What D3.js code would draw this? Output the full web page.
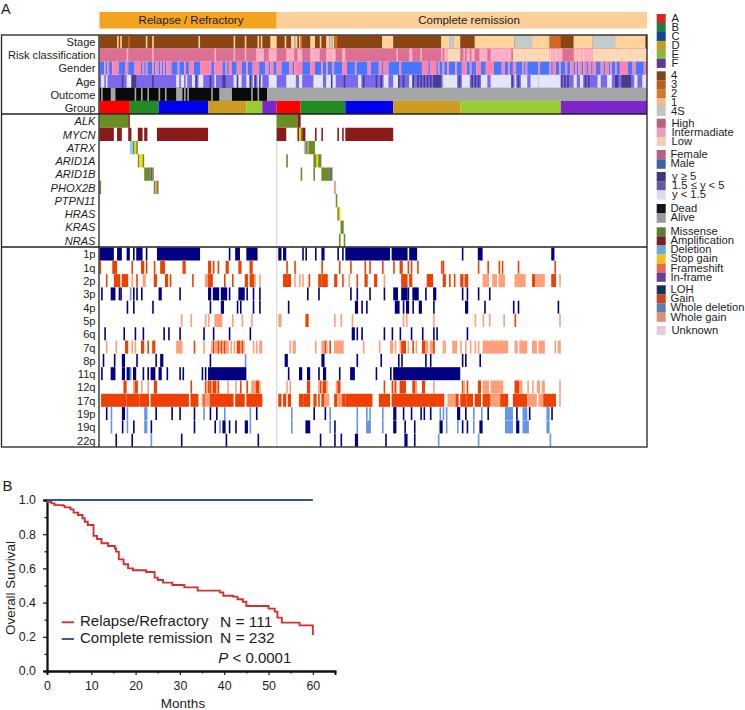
<!DOCTYPE html>
<html><head><meta charset="utf-8">
<script src="https://d3js.org/d3.v7.min.js"></script>
<style>html,body{margin:0;padding:0;background:#fff}svg{display:block}text{font-family:"Liberation Sans",Arial,sans-serif;fill:#1c1c1c}</style>
</head><body><div id="c"></div>
<script>
// ---- cohort
const cohortNames=["Relapse / Refractory","Complete remission"];
const cohortSizes=[111,232];
const groupNames=["A","B","C","D","E","F"];
const groupSizesRelapse=[19,18,31,24,10,9];
const groupSizesRemission=[15,28,30,42,63,54];
const annotationRows=["Stage","Risk classification","Gender","Age","Outcome","Group"];
const geneRows=["ALK","MYCN","ATRX","ARID1A","ARID1B","PHOX2B","PTPN11","HRAS","KRAS","NRAS"];
const armRows=["1p","1q","2p","3p","4p","5p","6q","7q","8p","11q","12q","17q","19p","19q","22q"];
// ---- annotation runs: [first patient, number of patients, level]
const stageBase=[[0,343,"4"]];
const stageRuns=[[11,1,"1"],[13,1,"1"],[18,1,"2"],[29,1,"1"],[33,1,"1"],[62,1,"1"],[84,1,"1"],[91,1,"1"],[99,1,"1"],[101,1,"1"],[107,4,"1"],
[116,1,"1"],[120,2,"1"],[122,1,"4S"],[123,1,"1"],[125,1,"1"],[126,1,"2"],[132,3,"1"],[138,1,"1"],[142,2,"1"],[144,2,"4S"],[146,1,"1"],[147,2,"2"],[177,7,"1"],
[214,5,"1"],[219,3,"4S"],[222,4,"1"],[235,25,"1"],[260,11,"4S"],[271,11,"1"],[282,7,"2"],[297,12,"1"],[309,14,"4S"],[323,19,"1"]];
const riskBase=[[0,343,"High"]];
const riskRuns=[[17,1,"Intermediate"],[33,1,"Intermediate"],[72,1,"Intermediate"],[84,1,"Intermediate"],[91,1,"Intermediate"],[98,5,"Intermediate"],[106,5,"Intermediate"],
[117,5,"Intermediate"],[124,3,"Intermediate"],[132,6,"Intermediate"],[142,4,"Intermediate"],[146,1,"Low"],[147,1,"Intermediate"],[152,2,"Intermediate"],[186,1,"Intermediate"],[194,2,"Intermediate"],[201,1,"Intermediate"],
[214,1,"Intermediate"],[216,2,"Intermediate"],[218,8,"Low"],[228,1,"Intermediate"],[230,2,"Intermediate"],[233,2,"Intermediate"],[238,5,"Intermediate"],[245,13,"Intermediate"],[259,23,"Low"],
[282,1,"Low"],[283,3,"Intermediate"],[286,1,"Low"],[287,3,"Intermediate"],[297,1,"Intermediate"],[298,1,"Low"],[299,1,"Intermediate"],[300,1,"Low"],[301,2,"Intermediate"],[303,1,"Low"],[304,5,"Intermediate"],[309,34,"Low"]];
const genderChanges=[0,3,4,5,6,8,12,16,18,22,26,27,28,29,30,33,34,35,37,38,39,40,41,42,45,49,50,53,54,56,59,63,70,72,77,79,80,81,83,86,89,92,93,96,100,104,106,107,109,111,114,119,121,122,127,132,135,139,140,142,143,146,147,152,155,160,161,168,170,175,177,178,181,188,189,202,206,207,211,212,213,215,216,218,219,223,224,227,230,232,233,236,239,242,247,252,254,256,257,259,261,265,266,267,268,275,276,282,283,284,286,288,289,292,293,295,297,298,299,300,302,303,305,306,308,309,311,314,316,317,319,320,321,323,324,326,331,334,336,341,343];
const ageBase=[[0,343,"mid"]];
const ageRuns=[[1,2,"light"],[4,1,"light"],[14,1,"dark"],[17,3,"light"],[20,3,"dark"],[33,1,"dark"],[48,2,"light"],[51,2,"light"],[54,1,"light"],[58,2,"light"],[60,1,"dark"],[62,3,"light"],[69,1,"dark"],
[72,1,"light"],[77,2,"dark"],[84,2,"light"],[86,1,"dark"],[87,2,"light"],[92,2,"light"],[94,1,"dark"],[96,1,"light"],[97,1,"dark"],[99,1,"light"],[100,1,"dark"],[101,1,"light"],[106,5,"light"],
[117,6,"light"],[125,2,"light"],[134,6,"light"],[142,3,"light"],[145,1,"dark"],[146,2,"light"],[153,1,"dark"],[162,2,"light"],[165,1,"dark"],[173,1,"dark"],[176,1,"dark"],[178,3,"light"],[184,3,"light"],[187,1,"dark"],[190,1,"dark"],[194,2,"light"],[196,1,"dark"],[199,1,"dark"],[201,1,"dark"],[203,1,"dark"],[205,1,"dark"],[207,1,"dark"],[209,5,"dark"],
[215,9,"light"],[225,1,"dark"],[227,5,"light"],[233,1,"dark"],[235,1,"dark"],[237,1,"dark"],[239,4,"light"],[245,13,"light"],[258,1,"dark"],[260,1,"light"],[262,1,"dark"],[264,4,"light"],[270,5,"light"],[275,14,"light"],
[289,1,"dark"],[291,1,"dark"],[293,1,"dark"],[297,2,"light"],[301,2,"light"],[304,1,"dark"],[306,1,"dark"],[312,2,"light"],[318,3,"light"],[323,2,"dark"],[327,6,"dark"],[335,2,"light"],[340,3,"light"]];
const outcomeBase=[[0,105,"Dead"],[105,238,"Alive"]];
const outcomeRuns=[[1,1,"Alive"],[7,3,"Alive"],[22,1,"Alive"],[26,1,"Alive"],[30,1,"Alive"],[37,1,"Alive"],[41,1,"Alive"],[48,4,"Alive"],[53,1,"Alive"],[55,1,"Alive"],[70,1,"Alive"],[75,8,"Alive"],[95,1,"Alive"],[99,1,"Alive"]];
// ---- mutations: [first patient, number of patients, type]
const geneALK=[[0,18,"M"],[18,1,"A"],[111,13,"M"],[124,2,"A"]];
const geneMYCN=[[0,9,"A"],[11,3,"A"],[18,2,"A"],[24,3,"A"],[28,2,"A"],[36,32,"A"],[111,6,"A"],[124,1,"A"],[125,1,"S"],[126,1,"M"],[127,2,"A"],[135,1,"A"],[139,1,"A"],[149,1,"A"],[152,1,"A"],[154,30,"A"]];
const geneATRX=[[19,2,"D"],[21,1,"M"],[22,1,"S"],[23,1,"M"],[128,1,"D"],[129,1,"M"],[130,1,"F"],[131,4,"M"]];
const geneARID1A=[[24,1,"M"],[25,2,"S"],[27,1,"M"],[117,1,"M"],[134,2,"M"],[136,1,"S"],[137,2,"M"]];
const geneARID1B=[[28,4,"M"],[32,1,"I"],[33,1,"M"],[126,1,"M"],[134,1,"M"],[139,5,"M"],[144,1,"I"],[145,1,"M"]];
const genePHOX2B=[[0,1,"M"],[34,1,"M"],[35,1,"F"],[36,1,"M"],[147,1,"F"]];
const genePTPN11=[[148,1,"M"]];
const geneHRAS=[[149,1,"M"],[150,1,"S"]];
const geneKRAS=[[151,2,"M"]];
const geneNRAS=[[150,1,"M"],[153,1,"M"]];
// ---- copy number: [first patient, number of patients, type]
const arm1p=[[0,9,"L"],[11,3,"L"],[17,2,"L"],[21,1,"L"],[23,4,"L"],[29,1,"L"],[36,27,"L"],[81,1,"L"],[85,3,"L"],[92,7,"L"],[112,2,"L"],[115,2,"L"],[127,1,"L"],[129,1,"L"],[135,1,"L"],[139,2,"L"],[149,1,"L"],[152,1,"L"],[154,28,"L"],[183,10,"L"],[194,5,"L"],[227,1,"L"],[237,3,"L"],[283,2,"L"]];
const arm1q=[[0,1,"G"],[8,3,"G"],[20,1,"G"],[26,2,"G"],[29,1,"G"],[34,1,"G"],[38,3,"G"],[52,2,"G"],[68,2,"G"],[71,1,"G"],[74,1,"G"],[79,2,"G"],[87,2,"G"],[94,2,"G"],[117,1,"G"],[122,1,"G"],[139,1,"G"],[150,1,"G"],[157,1,"G"],[166,1,"G"],[169,1,"G"],[177,1,"G"],[184,1,"G"],[188,2,"G"],[193,1,"G"],[195,1,"G"],[199,1,"G"],[214,1,"G"],[215,1,"G"],[237,1,"G"],[243,1,"G"],[250,1,"G"],[252,1,"G"],[262,1,"G"],[285,1,"G"]];
const arm2p=[[4,1,"G"],[9,2,"G"],[11,2,"G"],[14,4,"G"],[20,1,"W"],[23,1,"G"],[27,2,"W"],[34,2,"G"],[41,2,"G"],[44,1,"G"],[58,1,"G"],[66,2,"W"],[68,3,"G"],[78,1,"G"],[83,1,"G"],[91,2,"G"],[94,3,"G"],[97,1,"W"],[100,1,"W"],[115,5,"G"],[122,1,"W"],[125,1,"W"],[127,1,"W"],[131,1,"G"],[137,2,"G"],[139,4,"G"],[147,2,"G"],[152,1,"G"],[156,1,"W"],[161,1,"G"],[166,2,"G"],[172,2,"G"],[178,1,"W"],[189,4,"G"],[194,2,"G"],[205,4,"G"],[215,2,"G"],[219,1,"G"],[222,1,"G"],[226,2,"G"],[228,1,"W"],[229,2,"G"],[240,4,"W"],[246,3,"W"],[250,4,"W"],[260,7,"W"],[271,2,"G"],[273,6,"W"],[283,3,"G"],[288,1,"W"]];
const arm3p=[[1,1,"L"],[7,3,"L"],[12,1,"L"],[13,1,"L"],[19,1,"D"],[21,1,"L"],[23,1,"L"],[26,1,"L"],[37,2,"L"],[50,1,"L"],[68,2,"L"],[71,4,"L"],[76,4,"L"],[81,1,"L"],[87,4,"L"],[92,1,"L"],[96,1,"L"],[100,1,"L"],[130,1,"L"],[137,1,"L"],[157,1,"L"],[161,1,"L"],[169,1,"L"],[178,1,"L"],[184,3,"L"],[189,4,"L"],[193,1,"L"],[196,4,"L"],[204,1,"L"],[209,2,"L"],[227,1,"L"],[230,1,"L"],[237,1,"L"],[244,1,"L"]];
const arm4p=[[17,1,"L"],[21,1,"L"],[33,1,"L"],[69,1,"L"],[76,2,"L"],[86,1,"L"],[88,1,"L"],[96,1,"L"],[100,1,"L"],[118,1,"L"],[160,2,"L"],[164,1,"L"],[167,1,"L"],[185,3,"L"],[190,1,"L"],[192,2,"L"],[196,1,"L"],[200,2,"L"],[209,1,"L"],[229,2,"L"],[241,1,"L"],[259,1,"L"],[262,1,"L"],[287,1,"L"]];
const arm5p=[[51,1,"W"],[57,1,"W"],[66,1,"W"],[68,1,"W"],[72,5,"W"],[83,1,"W"],[89,1,"W"],[95,1,"W"],[112,2,"W"],[129,2,"G"],[147,1,"W"],[151,1,"W"],[158,1,"W"],[190,1,"W"],[192,1,"W"],[209,1,"W"],[235,1,"W"],[240,1,"W"],[244,1,"W"],[253,1,"W"],[260,1,"G"],[288,1,"W"]];
const arm6q=[[3,1,"L"],[15,1,"L"],[22,1,"L"],[27,1,"L"],[40,1,"L"],[43,1,"L"],[50,1,"L"],[65,1,"L"],[71,1,"L"],[81,1,"L"],[94,1,"L"],[158,2,"L"],[161,1,"L"],[164,1,"L"],[178,1,"L"],[183,1,"L"],[188,1,"L"],[195,1,"L"],[202,1,"L"],[209,1,"L"],[211,1,"L"],[230,1,"L"]];
const arm7q=[[4,1,"W"],[10,1,"W"],[16,2,"G"],[20,1,"W"],[22,1,"W"],[26,2,"G"],[30,1,"G"],[33,2,"G"],[48,4,"W"],[59,1,"G"],[65,1,"W"],[70,1,"W"],[71,1,"G"],[72,2,"W"],[74,1,"G"],[75,1,"W"],[76,1,"G"],[77,1,"W"],[78,1,"G"],[79,2,"W"],[82,1,"W"],[84,1,"W"],[86,2,"G"],[88,1,"W"],[89,1,"G"],[90,1,"W"],[96,1,"W"],[98,1,"W"],[100,2,"W"],
[119,1,"W"],[121,2,"W"],[135,1,"W"],[139,2,"W"],[141,1,"G"],[142,1,"W"],[144,1,"G"],[147,6,"W"],[165,1,"W"],[175,1,"W"],[182,2,"W"],[185,1,"W"],[188,1,"W"],[189,3,"G"],[193,1,"W"],[196,1,"G"],[198,1,"W"],[202,2,"G"],[204,2,"W"],[207,3,"W"],[209,1,"G"],[215,1,"W"],[216,1,"W"],[221,3,"W"],[226,1,"W"],[229,1,"W"],[232,1,"W"],[235,1,"W"],[237,1,"W"],[240,16,"W"],[260,2,"W"],[263,5,"W"],[271,3,"W"],[275,4,"W"],[285,1,"W"],[287,2,"W"]];
const arm8p=[[2,1,"L"],[9,1,"L"],[14,2,"L"],[23,1,"L"],[35,1,"L"],[38,2,"L"],[69,1,"L"],[91,1,"D"],[116,2,"L"],[139,2,"L"],[161,1,"L"],[176,1,"L"],[187,1,"L"],[189,1,"L"],[204,1,"L"],[207,1,"L"],[227,1,"L"],[229,1,"L"],[238,1,"L"]];
const arm11q=[[1,1,"L"],[7,3,"L"],[14,2,"L"],[17,2,"L"],[19,1,"D"],[21,2,"L"],[27,1,"L"],[30,1,"L"],[32,3,"L"],[37,2,"L"],[42,1,"L"],[50,1,"L"],[52,1,"L"],[64,1,"L"],[66,1,"L"],[68,24,"L"],[118,1,"L"],[125,2,"L"],[130,2,"L"],[137,1,"L"],[140,2,"L"],[150,1,"L"],[157,3,"L"],[173,1,"L"],[182,1,"L"],[184,42,"L"]];
const arm12q=[[15,2,"G"],[21,1,"W"],[22,2,"G"],[26,1,"W"],[30,1,"W"],[34,2,"G"],[57,1,"G"],[66,1,"G"],[67,1,"W"],[68,1,"G"],[69,1,"G"],[70,1,"W"],[71,2,"G"],[73,1,"W"],[74,1,"G"],[80,1,"W"],[85,1,"W"],[88,1,"G"],[92,1,"G"],[95,3,"W"],[98,2,"G"],[100,1,"W"],
[117,1,"W"],[119,1,"W"],[130,2,"G"],[137,1,"W"],[138,1,"G"],[139,1,"W"],[140,2,"G"],[142,1,"W"],[148,1,"W"],[149,2,"G"],[178,1,"G"],[183,1,"G"],[184,1,"W"],[185,1,"G"],[188,4,"G"],[196,2,"G"],[198,1,"W"],[202,2,"G"],[209,1,"W"],[227,1,"G"],[228,1,"W"],[230,1,"G"],[237,2,"G"],[240,4,"W"],[245,8,"W"],[260,3,"G"],[263,2,"W"],[268,1,"W"],[271,1,"W"],[274,2,"W"],[277,2,"W"],[288,1,"W"]];
const arm17q=[[1,16,"G"],[17,8,"G"],[25,6,"G"],[32,24,"G"],[57,5,"G"],[64,1,"W"],[65,1,"G"],[66,3,"W"],[69,15,"G"],[85,6,"G"],[92,10,"G"],
[112,2,"G"],[115,2,"G"],[118,2,"G"],[125,3,"G"],[128,4,"G"],[134,2,"G"],[137,1,"G"],[139,2,"G"],[141,3,"W"],[147,2,"G"],[149,3,"W"],[152,2,"G"],[154,17,"G"],[175,7,"G"],[183,29,"G"],[212,4,"G"],[218,5,"W"],[223,2,"G"],[226,4,"G"],[230,4,"G"],[235,4,"G"],[240,5,"G"],[245,6,"W"],[251,5,"G"],[259,9,"G"],[268,6,"W"],[275,3,"W"],[278,8,"G"],[288,1,"W"]];
const arm19p=[[4,1,"L"],[7,1,"D"],[14,2,"L"],[17,1,"D"],[28,2,"D"],[35,1,"L"],[45,1,"L"],[50,1,"L"],[59,1,"L"],[65,1,"D"],[69,1,"L"],[73,1,"L"],[78,1,"D"],[94,1,"D"],[98,1,"L"],
[120,1,"D"],[134,1,"L"],[141,1,"L"],[144,1,"D"],[161,1,"D"],[167,1,"D"],[169,1,"D"],[177,1,"D"],[184,2,"L"],[190,1,"L"],[195,1,"L"],[201,1,"L"],[203,1,"L"],[207,1,"L"],[213,1,"D"],[215,1,"D"],[217,1,"D"],[224,2,"L"],[229,1,"L"],[234,1,"D"],[239,1,"D"],[243,1,"L"],[254,5,"D"],[261,1,"L"],[265,3,"D"],[269,1,"L"],[280,2,"D"],[283,1,"L"]];
const arm19q=[[7,1,"D"],[14,1,"L"],[17,1,"D"],[21,1,"L"],[28,2,"D"],[32,1,"L"],[59,1,"L"],[72,1,"L"],[75,1,"D"],[77,2,"L"],[81,1,"L"],[85,1,"L"],[91,2,"L"],[94,1,"D"],
[120,1,"D"],[129,3,"L"],[144,1,"D"],[147,1,"L"],[161,1,"D"],[167,3,"D"],[177,1,"D"],[184,2,"L"],[191,1,"L"],[197,1,"L"],[213,2,"L"],[217,1,"D"],[224,1,"D"],[227,1,"L"],[230,1,"L"],[234,1,"D"],[238,2,"L"],[254,5,"D"],[261,2,"L"],[265,4,"D"],[280,2,"D"]];
const arm22q=[[10,1,"L"],[20,1,"L"],[32,1,"D"],[51,1,"L"],[79,1,"L"],[99,1,"L"],[138,1,"L"],[147,1,"L"],[151,1,"L"],[160,2,"L"],[179,1,"L"],[191,2,"L"],[197,1,"L"],[212,1,"D"],[237,1,"D"],[282,1,"D"]];
const geneData=[geneALK,geneMYCN,geneATRX,geneARID1A,geneARID1B,genePHOX2B,genePTPN11,geneHRAS,geneKRAS,geneNRAS];
const armData=[arm1p,arm1q,arm2p,arm3p,arm4p,arm5p,arm6q,arm7q,arm8p,arm11q,arm12q,arm17q,arm19p,arm19q,arm22q];
// ---- survival
const kmMonths=[0,1,1.7,3.6,4,5.3,6,7,8,8.5,9.2,10.5,11.3,12.3,13.8,15.3,15.6,16.2,17.3,18.3,19.4,22.4,24.3,25,26.2,28.3,31,34,39,39.8,42,43,44.2,45,50,51.4,52,53,57,60];
const kmRelapse=[.99,.98,.97,.967,.957,.945,.926,.912,.893,.873,.854,.79,.772,.747,.731,.717,.698,.653,.624,.6,.589,.579,.546,.532,.517,.503,.489,.47,.46,.44,.435,.42,.405,.38,.365,.347,.312,.283,.267,.21];
const kmMonthsEnd=[0,60];
const kmRemission=[1,1];
// ---- legend
const legendBlocks=[
 {y:14,h:8.97,x:671.5,items:[["A","#D9281E"],["B","#1E7F3C"],["C","#10479A"],["D","#C49A22"],["E","#8DB93B"],["F","#5E3A96"]]},
 {y:71.3,h:8.93,x:671,items:[["4","#7F4420"],["3","#B5601F"],["2","#D5762E"],["1","#E8BE90"],["4S","#BCC8C6"]]},
 {y:118.7,h:9.1,x:671.5,items:[["High","#B7607F"],["Intermadiate","#E4A3B8"],["Low","#F0CFB4"]]},
 {y:150,h:9.35,x:670.5,items:[["Female","#B7607F"],["Male","#3F62A0"]]},
 {y:172,h:9.17,x:672,items:[["y \u2265 5","#3F377F"],["1.5 \u2264 y < 5","#635C9E"],["y < 1.5","#DADBEC"]]},
 {y:204,h:9.35,x:670.5,items:[["Dead","#151515"],["Alive","#999999"]]},
 {y:227.3,h:9.07,x:670.5,items:[["Missense","#5E7D33"],["Amplification","#7D1F1F"],["Deletion","#6BA8D9"],["Stop gain","#EEC21E"],["Frameshift","#E56A4F"],["In-frame","#663E96"]]},
 {y:285.3,h:9.1,x:670.5,items:[["LOH","#13305F"],["Gain","#C9451F"],["Whole deletion","#5A7FB0"],["Whole gain","#E08F70"]]},
 {y:326,h:9,x:671.5,items:[["Unknown","#E3CBDD"]]}];

const colors={stage:{"4":"#8B4513","3":"#CD661D","2":"#D2691E","1":"#FFD39B","4S":"#C1CDCD"},
 risk:{High:"#DB7093",Intermediate:"#FFAEC4",Low:"#FFD8B5"},
 gender:["#4876FF","#FF82AB"],
 age:{dark:"#483D8B",mid:"#7B68EE",light:"#E6E6FA"},
 outcome:{Dead:"#0a0a0a",Alive:"#A6A6A6"},
 group:["#FF0000","#228B22","#0000EE","#CD9B1D","#9ACD32","#7D26CD"],
 mut:{M:"#6B8E23",A:"#8B1A1A",D:"#87CEFA",S:"#FFD700",F:"#FA8072",I:"#7D3FA8"},
 cna:{L:"#000080",G:"#EE4000",D:"#6495ED",W:"#FFA07A"}};

const svg=d3.select("#c").append("svg").attr("width",745).attr("height",710);
const total=d3.sum(cohortSizes);
const px=d3.scaleLinear().domain([0,total]).range([99.5,647]);
const rowA=d3.scaleBand().domain(annotationRows).range([35.5,114]);
const rowG=d3.scaleBand().domain(geneRows).range([114.5,247]);
const rowC=d3.scaleBand().domain(armRows).range([247.5,447]);
const cell=(g,runs,y,h,fill)=>g.selectAll(null).data(runs).enter().append("rect")
  .attr("x",d=>px(d[0])).attr("width",d=>px(d[0]+d[1])-px(d[0])).attr("y",y).attr("height",h).attr("fill",fill);

// banner
let acc=0;
cohortSizes.forEach((n,k)=>{
  svg.append("rect").attr("x",px(acc)).attr("width",px(acc+n)-px(acc)).attr("y",12).attr("height",16.5).attr("fill",k?"#FBCF9A":"#F5A31C");
  acc+=n;
});
svg.append("text").attr("x",191).attr("y",24).attr("text-anchor","middle").attr("font-size",11.5).text(cohortNames[0]);
svg.append("text").attr("x",469).attr("y",24).attr("text-anchor","middle").attr("font-size",11.5).text(cohortNames[1]);

// annotation tracks
const tracks=svg.append("g");
const paintTrack=(name,base,runs,pal)=>{
  const g=tracks.append("g");
  const f=d=>pal[d[2]];
  cell(g,base,rowA(name),rowA.bandwidth(),f);
  cell(g,runs,rowA(name),rowA.bandwidth(),f);
};
paintTrack("Stage",stageBase,stageRuns,colors.stage);
paintTrack("Risk classification",riskBase,riskRuns,colors.risk);
paintTrack("Age",ageBase,ageRuns,colors.age);
paintTrack("Outcome",outcomeBase,outcomeRuns,colors.outcome);
const genderRuns=d3.pairs(genderChanges).map((p,k)=>[p[0],p[1]-p[0],k%2]);
cell(tracks.append("g"),genderRuns,rowA("Gender"),rowA.bandwidth(),d=>colors.gender[d[2]]);
const groupRuns=[];acc=0;
[groupSizesRelapse,groupSizesRemission].forEach(s=>s.forEach((n,k)=>{groupRuns.push([acc,n,k]);acc+=n;}));
cell(tracks.append("g"),groupRuns,rowA("Group"),rowA.bandwidth(),d=>colors.group[d[2]]);

// divider between the cohorts
svg.append("line").attr("x1",px(cohortSizes[0])).attr("x2",px(cohortSizes[0])).attr("y1",114).attr("y2",447).attr("stroke","#dcdcdc").attr("stroke-width",1.5);

geneRows.forEach((g,k)=>cell(svg.append("g"),geneData[k],rowG(g),rowG.bandwidth(),d=>colors.mut[d[2]]));
armRows.forEach((a,k)=>cell(svg.append("g"),armData[k],rowC(a),rowC.bandwidth()-0.3,d=>colors.cna[d[2]]));

// frame
const frame=svg.append("g").attr("stroke","#222").attr("stroke-width",1.3).attr("fill","none");
frame.append("rect").attr("x",1.5).attr("y",35).attr("width",645.5).attr("height",412);
frame.append("line").attr("x1",99).attr("x2",99).attr("y1",35).attr("y2",447);
frame.append("line").attr("x1",1.5).attr("x2",647).attr("y1",114).attr("y2",114);
frame.append("line").attr("x1",1.5).attr("x2",647).attr("y1",247).attr("y2",247);

// row labels
const rowLabels=(names,scale,italic)=>svg.append("g").selectAll("text").data(names).enter().append("text")
  .attr("x",95.5).attr("y",d=>scale(d)+scale.bandwidth()/2+.4).attr("dy","0.35em").attr("text-anchor","end")
  .attr("font-size",11.1).attr("font-style",italic?"italic":null).text(d=>d);
rowLabels(annotationRows,rowA,false);rowLabels(geneRows,rowG,true);rowLabels(armRows,rowC,false);

// legend
legendBlocks.forEach(b=>{
  b.items.forEach((it,k)=>{
    svg.append("rect").attr("x",656.7).attr("width",9).attr("y",b.y+k*b.h).attr("height",b.h+.1).attr("fill",it[1]);
    svg.append("text").attr("x",b.x).attr("y",b.y+(k+.5)*b.h-.6).attr("dy","0.36em").attr("font-size",11.2).attr("fill","#222").text(it[0]);
  });
});

// panel letters
svg.append("text").attr("x",1).attr("y",13.5).attr("font-size",14.5).text("A");
svg.append("text").attr("x",2.5).attr("y",491).attr("font-size",15).text("B");

// Kaplan-Meier
const kx=d3.scaleLinear().domain([0,65]).range([47,335]);
const ky=d3.scaleLinear().domain([0,1]).range([671,500]);
const km=svg.append("g");
const axStyle=g=>{g.selectAll("path,line").attr("stroke","#111");g.select(".domain").attr("stroke-width",1.8);g.selectAll(".tick line").attr("stroke-width",1.2);g.selectAll("text").attr("font-size",12.4).attr("font-family","Liberation Sans").attr("fill","#1c1c1c");};
km.append("g").attr("transform","translate(0,671)").call(d3.axisBottom(kx).tickValues(d3.range(5,65,10)).tickSizeOuter(0).tickSize(2.5).tickFormat("")).call(axStyle);
km.append("g").attr("transform","translate(47,0)").call(d3.axisLeft(ky).tickValues(d3.range(.1,1,.2)).tickSizeOuter(0).tickSize(2.5).tickFormat("")).call(axStyle);
km.append("g").attr("transform","translate(0,671)").call(d3.axisBottom(kx).tickValues(d3.range(0,70,10)).tickSizeOuter(0).tickSize(4).tickPadding(6).tickFormat(d3.format("d"))).call(axStyle);
km.append("g").attr("transform","translate(47,0)").call(d3.axisLeft(ky).tickValues(d3.range(0,1.01,.2)).tickSizeOuter(0).tickSize(4).tickPadding(7).tickFormat(d3.format(".1f"))).call(axStyle);
const line=d3.line().x(d=>kx(d[0])).y(d=>ky(d[1])).curve(d3.curveStepAfter);
km.append("path").attr("d",line(d3.zip(kmMonths,kmRelapse))).attr("fill","none").attr("stroke","#D2302E").attr("stroke-width",1.9);
km.append("path").attr("d",line(d3.zip(kmMonthsEnd,kmRemission))).attr("fill","none").attr("stroke","#2F5597").attr("stroke-width",1.9);
km.append("text").attr("x",183).attr("y",708).attr("text-anchor","middle").attr("font-size",13.5).text("Months");
km.append("text").attr("transform","translate(14.5,588) rotate(-90)").attr("text-anchor","middle").attr("font-size",13.4).text("Overall Survival");
const kmLeg=[["Relapse/Refractory","N = 111","#D2302E",622.3],["Complete remission","N = 232","#2F5597",639]];
kmLeg.forEach(l=>{
  km.append("line").attr("x1",61.7).attr("x2",74).attr("y1",l[3]).attr("y2",l[3]).attr("stroke",l[2]).attr("stroke-width",1.9);
  km.append("text").attr("x",80).attr("y",l[3]+3.6).attr("font-size",15).text(l[0]);
  km.append("text").attr("x",220).attr("y",l[3]+4.3).attr("font-size",15.5).text(l[1]);
});
const pt=km.append("text").attr("x",218.3).attr("y",663).attr("font-size",15);
pt.append("tspan").attr("font-style","italic").text("P");
pt.append("tspan").text(" < 0.0001");
</script></body></html>
